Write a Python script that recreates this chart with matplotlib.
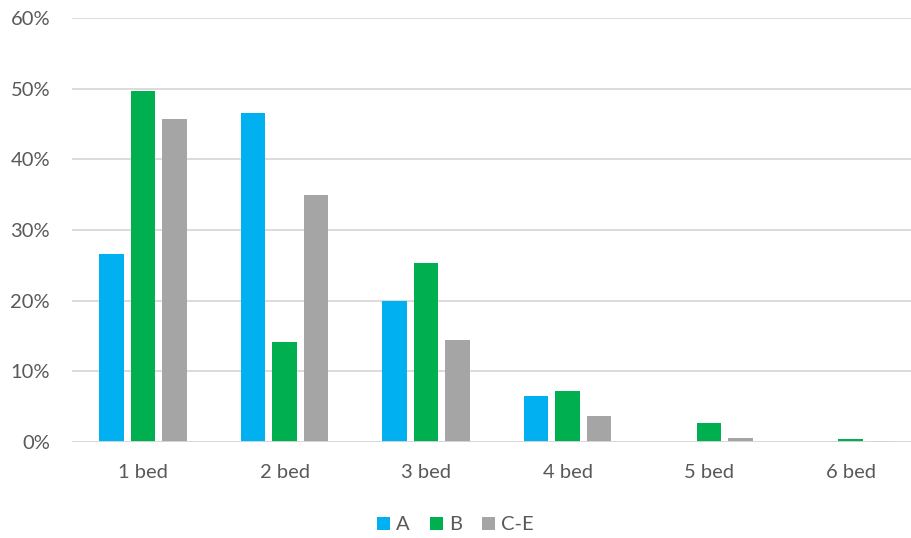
import matplotlib
matplotlib.use("Agg")
import matplotlib.pyplot as plt
import numpy as np
from matplotlib.ticker import FuncFormatter

categories = ["1 bed", "2 bed", "3 bed", "4 bed", "5 bed", "6 bed"]
series_names = ["A", "B", "C-E"]
a_vals = [26.6, 46.6, 20.0, 6.6, 0.0, 0.0]
b_vals = [49.7, 14.2, 25.3, 7.3, 2.7, 0.4]
ce_vals = [45.7, 35.0, 14.5, 3.7, 0.6, 0.2]
colors = ["#00B0F0", "#00B050", "#A5A5A5"]

plt.rcParams['font.family'] = ['Lato', 'DejaVu Sans']
fig = plt.figure(figsize=(9.11, 5.38), dpi=100)
ax = fig.add_axes([0.0793, 0.178, 0.932, 0.789])

x = np.arange(len(categories))
width = 0.175
step = 0.222
for i, (vals, c, n) in enumerate(zip([a_vals, b_vals, ce_vals], colors, series_names)):
    ax.bar(x + (i - 1) * step, np.array(vals) / 100, width=width, color=c, label=n, zorder=3)

ax.set_xlim(-0.5, len(categories) - 0.5)
ax.set_ylim(0, 0.6)
ax.set_yticks(np.arange(0, 0.61, 0.1))
ax.yaxis.set_major_formatter(FuncFormatter(lambda v, p: f"{v*100:.0f}%"))
ax.grid(axis='y', color='#D9D9D9', linewidth=1.3, zorder=0)
ax.set_xticks(x)
ax.set_xticklabels(categories)
for s in ax.spines.values():
    s.set_visible(False)
ax.tick_params(axis='both', length=0, labelsize=14.5, labelcolor='#595959')
ax.tick_params(axis='x', pad=16)
ax.tick_params(axis='y', pad=16)
ax.axhline(0, color='#D9D9D9', linewidth=1.3, zorder=4)

leg = fig.legend(loc='lower center', bbox_to_anchor=(0.5, -0.025), ncol=3, frameon=False,
                 fontsize=14.5, handlelength=0.65, handleheight=0.65, handletextpad=0.3,
                 columnspacing=1.0)
for t in leg.get_texts():
    t.set_color('#595959')

fig.savefig("out.png", dpi=100)
